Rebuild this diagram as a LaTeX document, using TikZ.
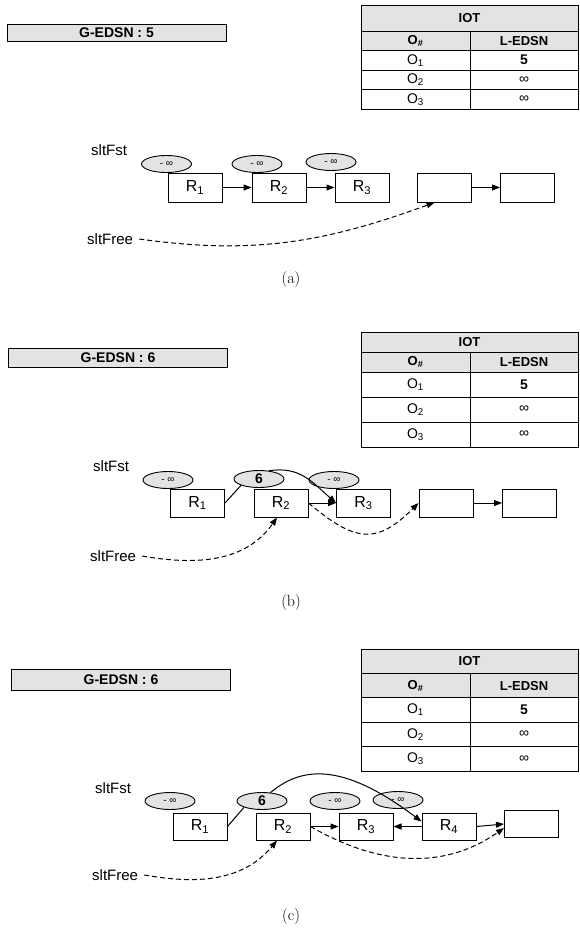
\documentclass[tikz,border=0pt]{standalone}
\usepackage{fontspec}
\setsansfont{Liberation Sans}
\usetikzlibrary{arrows.meta,shapes.geometric}

\tikzset{
  rec/.style={draw, line width=1pt, minimum width=54pt, minimum height=28pt, inner sep=0pt,
    font=\sffamily\fontsize{16}{16}\selectfont},
  tag/.style={ellipse, draw, line width=0.9pt, fill=gray!22, minimum width=50pt, minimum height=17pt,
    inner sep=0pt, font=\sffamily\fontsize{10}{10}\selectfont},
  gbox/.style={draw, line width=1pt, fill=gray!22, minimum width=219pt, inner sep=0pt,
    font=\sffamily\bfseries\fontsize{14}{14}\selectfont},
  cell/.style={draw, line width=1pt, inner sep=0pt, minimum width=109pt,
    font=\sffamily\fontsize{14}{14}\selectfont},
  head/.style={cell, fill=gray!22, font=\sffamily\bfseries\fontsize{13}{13}\selectfont},
  lbl/.style={anchor=west, inner sep=0pt, font=\sffamily\fontsize{15}{15}\selectfont},
  ptr/.style={line width=1pt, -{Triangle[length=8pt,width=6pt]}},
  dptr/.style={ptr, dash pattern=on 5pt off 3pt},
  subcap/.style={font=\fontsize{16}{16}\selectfont}
}

\begin{document}
\begin{tikzpicture}[x=1pt, y=-1pt]
	\useasboundingbox (0,0) rectangle (579,937);
	
	% Panel (a)
	\begin{scope}
		% Global counter
		\node[gbox, minimum height=17pt] (ag) at (116.5,33) {G-EDSN : 5};
		
		% IOT table
		\node[head, minimum width=217pt, minimum height=26pt] (aiot) at (469.5,18) {IOT};
		\node[head, minimum height=19.5pt] (aoh) at (415.5,40.75) {O\textsubscript{\#}};
		\node[head, minimum width=108pt, minimum height=19.5pt] (alh) at (524,40.75) {L-EDSN};
		\node[cell, minimum height=19.5pt] (ao1) at (415.5,60.25) {O\textsubscript{1}};
		\node[cell, minimum width=108pt, minimum height=19.5pt, font=\sffamily\bfseries\fontsize{14}{14}\selectfont] (al1) at (524,60.25) {5};
		\node[cell, minimum height=19.5pt] (ao2) at (415.5,79.75) {O\textsubscript{2}};
		\node[cell, minimum width=108pt, minimum height=19.5pt] (al2) at (524,79.75) {∞};
		\node[cell, minimum height=19.5pt] (ao3) at (415.5,99.25) {O\textsubscript{3}};
		\node[cell, minimum width=108pt, minimum height=19.5pt] (al3) at (524,99.25) {∞};
		
		% Slots
		\node[lbl] (afst) at (91,150) {sltFst};
		\node[rec, minimum height=29pt] (a1) at (195,187.5) {R\textsubscript{1}};
		\node[rec, minimum height=29pt] (a2) at (279,187.5) {R\textsubscript{2}};
		\node[rec, minimum height=29pt] (a3) at (362,187.5) {R\textsubscript{3}};
		\node[rec, minimum height=29pt] (a4) at (444.5,187.5) {};
		\node[rec, minimum height=29pt] (a5) at (527.5,187.5) {};
		\node[tag] (at1) at (166.5,164) {- ∞};
		\node[tag] (at2) at (257,164) {- ∞};
		\node[tag] (at3) at (331,162) {- ∞};
		\node[lbl] (afree) at (87,239) {sltFree};
		
		% Links
		\draw[ptr] (a1) -- (a2);
		\draw[ptr] (a2) -- (a3);
		\draw[ptr] (a4) -- (a5);
		\draw[dptr] ([xshift=6pt]afree.east) to[out=-8,in=200] ([xshift=-10pt]a4.south);
		
		\node[subcap] (acap) at (291,280) {(a)};
	\end{scope}
	
	% Panel (b)
	\begin{scope}
		% Global counter
		\node[gbox, minimum height=19pt] (bg) at (118,357.5) {G-EDSN : 6};
		
		% IOT table
		\node[head, minimum width=217pt, minimum height=20pt] (biot) at (469.5,342) {IOT};
		\node[head, minimum height=20pt] (boh) at (415.5,362) {O\textsubscript{\#}};
		\node[head, minimum width=108pt, minimum height=20pt] (blh) at (524,362) {L-EDSN};
		\node[cell, minimum height=25pt] (bo1) at (415.5,384.5) {O\textsubscript{1}};
		\node[cell, minimum width=108pt, minimum height=25pt, font=\sffamily\bfseries\fontsize{14}{14}\selectfont] (bl1) at (524,384.5) {5};
		\node[cell, minimum height=25pt] (bo2) at (415.5,409.5) {O\textsubscript{2}};
		\node[cell, minimum width=108pt, minimum height=25pt] (bl2) at (524,409.5) {∞};
		\node[cell, minimum height=25pt] (bo3) at (415.5,434.5) {O\textsubscript{3}};
		\node[cell, minimum width=108pt, minimum height=25pt] (bl3) at (524,434.5) {∞};
		
		% Slots
		\node[lbl] (bfst) at (93,466) {sltFst};
		\node[rec] (b1) at (197.5,503) {R\textsubscript{1}};
		\node[rec] (b2) at (281,503) {R\textsubscript{2}};
		\node[rec] (b3) at (363.5,503) {R\textsubscript{3}};
		\node[rec] (b4) at (446,503) {};
		\node[rec] (b5) at (529.5,503) {};
		\node[tag] (bt1) at (168,480) {- ∞};
		\node[tag, font=\sffamily\bfseries\fontsize{14}{14}\selectfont] (bt2) at (259,479) {6};
		\node[tag] (bt3) at (334,480) {- ∞};
		\node[lbl] (bfree) at (90,556) {sltFree};
		
		% Links
		\draw[line width=1pt] (b1.east) -- (bt2.south west);
		\draw[ptr] (bt2.40) .. controls (300,466) and (312,482) .. (b3.west);
		\draw[ptr] (b2.east) -- (b3.west);
		\draw[ptr] (b4) -- (b5);
		\draw[dptr] (b2.east) to[out=-40,in=225,looseness=1.4] (b4.west);
		\draw[dptr] ([xshift=6pt]bfree.east) to[out=-10,in=235] ([xshift=-4pt]b2.south);
		
		\node[subcap] (bcap) at (291,602) {(b)};
	\end{scope}
	
	% Panel (c)
	\begin{scope}
		% Global counter
		\node[gbox, minimum height=21pt] (cg) at (121,680) {G-EDSN : 6};
		
		% IOT table
		\node[head, minimum width=217pt, minimum height=24.4pt] (ciot) at (469.5,661.2) {IOT};
		\node[head, minimum height=24.4pt] (coh) at (415.5,685.6) {O\textsubscript{\#}};
		\node[head, minimum width=108pt, minimum height=24.4pt] (clh) at (524,685.6) {L-EDSN};
		\node[cell, minimum height=24.4pt] (co1) at (415.5,710) {O\textsubscript{1}};
		\node[cell, minimum width=108pt, minimum height=24.4pt, font=\sffamily\bfseries\fontsize{14}{14}\selectfont] (cl1) at (524,710) {5};
		\node[cell, minimum height=24.4pt] (co2) at (415.5,734.4) {O\textsubscript{2}};
		\node[cell, minimum width=108pt, minimum height=24.4pt] (cl2) at (524,734.4) {∞};
		\node[cell, minimum height=24.4pt] (co3) at (415.5,758.8) {O\textsubscript{3}};
		\node[cell, minimum width=108pt, minimum height=24.4pt] (cl3) at (524,758.8) {∞};
		
		% Slots
		\node[lbl] (cfst) at (95,788) {sltFst};
		\node[rec, minimum height=27pt] (c1) at (200,826.5) {R\textsubscript{1}};
		\node[rec, minimum height=27pt] (c2) at (283,826.5) {R\textsubscript{2}};
		\node[rec, minimum height=27pt] (c3) at (366,826.5) {R\textsubscript{3}};
		\node[rec, minimum height=27pt] (c4) at (449,826.5) {R\textsubscript{4}};
		\node[rec, minimum height=27pt] (c5) at (531.5,824) {};
		\node[tag] (ct1) at (170,801) {- ∞};
		\node[tag, font=\sffamily\bfseries\fontsize{14}{14}\selectfont] (ct2) at (262,801) {6};
		\node[tag] (ct3) at (335,801) {- ∞};
		\node[tag] (ct4) at (398,800) {- ∞};
		\node[lbl] (cfree) at (92,875) {sltFree};
		
		% Links
		\draw[line width=1pt] (c1.east) -- (ct2.south west);
		\draw[ptr] (ct2.45) .. controls (300,768) and (340,760) .. ([yshift=5pt]c4.west);
		\draw[ptr] (c2.east) -- (c3.west);
		\draw[ptr] (c4.west) -- (c3.east);
		\draw[ptr] (c4.east) -- (c5.west);
		\draw[dptr] (c2.east) to[out=-30,in=215] ([yshift=-4pt]c5.west);
		\draw[dptr] ([xshift=6pt]cfree.east) to[out=-10,in=230] ([xshift=-6pt]c2.south);
		
		\node[subcap] (ccap) at (291,916) {(c)};
	\end{scope}
	
\end{tikzpicture}
\end{document}
